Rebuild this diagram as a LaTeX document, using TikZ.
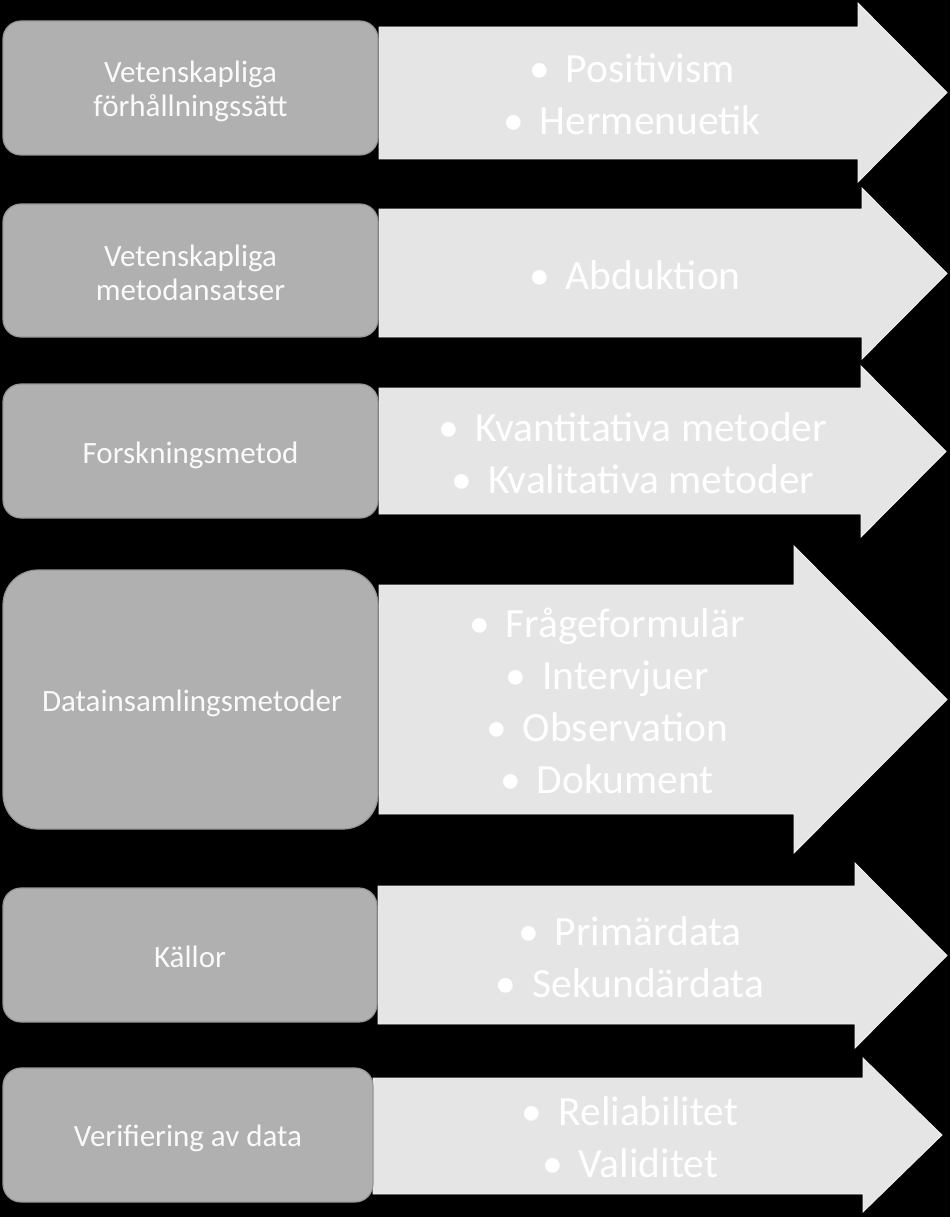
\documentclass[tikz,border=0pt]{standalone}
\usepackage{fontspec}
\setmainfont{Carlito}
\definecolor{boxfill}{HTML}{B0B0B0}
\definecolor{boxedge}{HTML}{969696}
\definecolor{arrowfill}{HTML}{E5E5E5}
\definecolor{arrowedge}{HTML}{F0F0F0}
\definecolor{boxtxt}{HTML}{FAFAFA}
\tikzset{
  boxstyle/.style={draw=boxedge, fill=boxfill, line width=1.2pt, inner sep=0pt, minimum width=375pt},
  arrowstyle/.style={fill=arrowfill, draw=arrowedge, line width=0.8pt, line join=miter},
  boxtext/.style={text=boxtxt, font=\fontsize{31}{34}\selectfont, anchor=base, inner sep=0pt},
  itemtext/.style={text=white, font=\fontsize{41.5}{52}\selectfont, anchor=base, inner sep=0pt},
}
\newcommand{\itm}[1]{\textbullet\hspace{16pt}#1}
\begin{document}
\begin{tikzpicture}[x=1pt,y=-1pt]
\useasboundingbox (0,0) rectangle (950,1217);
\fill[black] (0,0) rectangle (950,1217);

% arrows
\filldraw[arrowstyle] (379,27) -- (858,27) -- (858,3) -- (947,92.5) -- (858,182) -- (858,159) -- (379,159) -- cycle;
\filldraw[arrowstyle] (379,209) -- (862,209) -- (862,188) -- (947,273.5) -- (862,359) -- (862,337) -- (379,337) -- cycle;
\filldraw[arrowstyle] (379,388) -- (861,388) -- (861,366) -- (946,451.5) -- (861,537) -- (861,514) -- (379,514) -- cycle;
\filldraw[arrowstyle] (379,585) -- (794,585) -- (794,546) -- (947,699.5) -- (794,853) -- (794,814) -- (379,814) -- cycle;
\filldraw[arrowstyle] (378,886) -- (855,886) -- (855,863) -- (947,955.5) -- (855,1048) -- (855,1024) -- (378,1024) -- cycle;
\filldraw[arrowstyle] (373,1078) -- (863,1078) -- (863,1058) -- (942,1135) -- (863,1212) -- (863,1194) -- (373,1194) -- cycle;

% boxes
\node[boxstyle, rounded corners=18pt, minimum height=134pt] (b1) at (190.5,88) {};
\node[boxstyle, rounded corners=18pt, minimum height=133pt] (b2) at (190.5,270.5) {};
\node[boxstyle, rounded corners=18pt, minimum height=134pt] (b3) at (190.5,451) {};
\node[boxstyle, rounded corners=35pt, minimum height=259pt] (b4) at (190.5,699.5) {};
\node[boxstyle, rounded corners=18pt, minimum height=134pt, minimum width=374pt] (b5) at (190,955) {};
\node[boxstyle, rounded corners=18pt, minimum height=134pt, minimum width=370pt] (b6) at (188,1135) {};

% box texts
\node[boxtext] (t1a) at (190.5,83) {Vetenskapliga};
\node[boxtext] (t1b) at (190.5,117) {förhållningssätt};
\node[boxtext] (t2a) at (190.5,266) {Vetenskapliga};
\node[boxtext] (t2b) at (190.5,300) {metodansatser};
\node[boxtext] (t3) at (190.5,463) {Forskningsmetod};
\node[boxtext] (t4) at (192,711) {Datainsamlingsmetoder};
\node[boxtext] (t5) at (190,967) {Källor};
\node[boxtext] (t6) at (188,1146) {Verifiering av data};

% arrow items
\node[itemtext] (i1a) at (632,83) {\itm{Positivism}};
\node[itemtext] (i1b) at (632,135) {\itm{Hermenuetik}};
\node[itemtext] (i2a) at (635,289) {\itm{Abduktion}};
\node[itemtext] (i3a) at (633,441) {\itm{Kvantitativa metoder}};
\node[itemtext] (i3b) at (633,493) {\itm{Kvalitativa metoder}};
\node[itemtext] (i4a) at (607,637.5) {\itm{Frågeformulär}};
\node[itemtext] (i4b) at (607,689.5) {\itm{Intervjuer}};
\node[itemtext] (i4c) at (607,741.5) {\itm{Observation}};
\node[itemtext] (i4d) at (607,793.5) {\itm{Dokument}};
\node[itemtext] (i5a) at (630,945.5) {\itm{Primärdata}};
\node[itemtext] (i5b) at (630,997.5) {\itm{Sekundärdata}};
\node[itemtext] (i6a) at (630,1125) {\itm{Reliabilitet}};
\node[itemtext] (i6b) at (630,1177) {\itm{Validitet}};
\end{tikzpicture}
\end{document}
